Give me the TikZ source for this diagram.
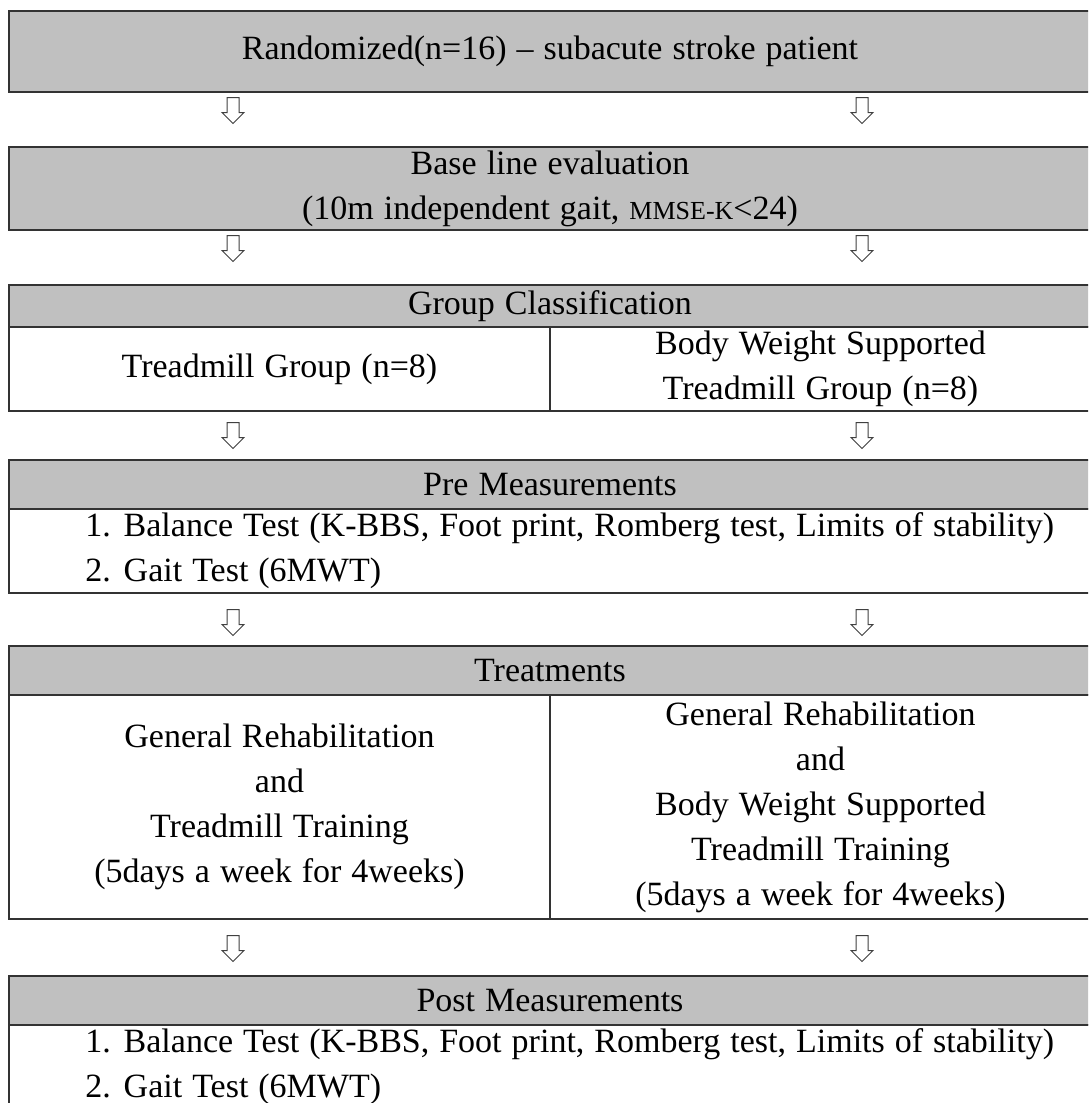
\documentclass[tikz,border=0pt]{standalone}
\usepackage{fontspec}
\setmainfont{Liberation Serif}
\usetikzlibrary{positioning,shapes.arrows}
\definecolor{headgray}{RGB}{192,192,192}
\begin{document}
\begin{tikzpicture}[x=1pt, y=-1pt, node distance=0pt, font={\fontsize{17}{22.5}\selectfont\spaceskip=5pt\relax}]
    \tikzstyle{head} = [rectangle, draw=black!80, line width=0.8pt, fill=headgray, minimum width=541pt, inner sep=0pt, outer sep=0pt, align=center, anchor=north west]
    \tikzstyle{cell} = [rectangle, draw=black!80, line width=0.8pt, fill=white, inner sep=0pt, outer sep=0pt, align=center]
    \tikzstyle{listtext} = [align=left, inner sep=0pt]
    \tikzstyle{downarrow} = [single arrow, shape border rotate=270, draw=black!75, line width=0.5pt, fill=white, minimum height=13pt, inner sep=2.75pt, single arrow head extend=2.5pt, anchor=tail]

    \useasboundingbox (0,0) rectangle (544,551.5);
    \clip (0,0) rectangle (544,551.5);

    % Enrolment
    \node [head, minimum height=40.5pt] (rand) at (4.5,5.5) {Randomized(n=16) – subacute stroke patient};
    \node [head, minimum height=41.5pt] (base) at (4.5,73.5) {Base line evaluation\\(10m independent gait, {\fontsize{13}{22.5}\selectfont MMSE-K}<24)};

    % Groups
    \node [head, minimum height=21pt] (group) at (4.5,142.5) {Group Classification};
    \node [cell, minimum width=270.5pt, minimum height=42pt, below right=0pt of group.south west] (treadgrp) {Treadmill Group (n=8)};
    \node [cell, minimum width=270.5pt, minimum height=42pt, right=0pt of treadgrp] (bwsgrp) {Body Weight Supported\\Treadmill Group (n=8)};

    % Pre measurements
    \node [head, minimum height=24.5pt] (pre) at (4.5,230) {Pre Measurements};
    \node [cell, minimum width=541pt, minimum height=42pt, below right=0pt of pre.south west] (prebody) {};
    \node [listtext, right=38pt of prebody.west] (pretext) {1. Balance Test (K-BBS, Foot print, Romberg test, Limits of stability)\\2. Gait Test (6MWT)};

    % Treatments
    \node [head, minimum height=24.5pt] (treat) at (4.5,323) {Treatments};
    \node [cell, minimum width=270.5pt, minimum height=112pt, below right=0pt of treat.south west] (treadtrain) {General Rehabilitation\\and\\Treadmill Training\\(5days a week for 4weeks)};
    \node [cell, minimum width=270.5pt, minimum height=112pt, right=0pt of treadtrain] (bwstrain) {General Rehabilitation\\and\\Body Weight Supported\\Treadmill Training\\(5days a week for 4weeks)};

    % Post measurements
    \node [head, minimum height=24.5pt] (post) at (4.5,488) {Post Measurements};
    \node [cell, minimum width=541pt, minimum height=42pt, below right=0pt of post.south west] (postbody) {};
    \node [listtext, right=38pt of postbody.west] (posttext) {1. Balance Test (K-BBS, Foot print, Romberg test, Limits of stability)\\2. Gait Test (6MWT)};

    % Flow arrows
    \foreach \y [count=\i] in {48.5,117.5,211,304.5,467.5} {
        \node [downarrow] (arrowl\i) at (116.5,\y) {};
        \node [downarrow] (arrowr\i) at (431,\y) {};
    }
\end{tikzpicture}
\end{document}
